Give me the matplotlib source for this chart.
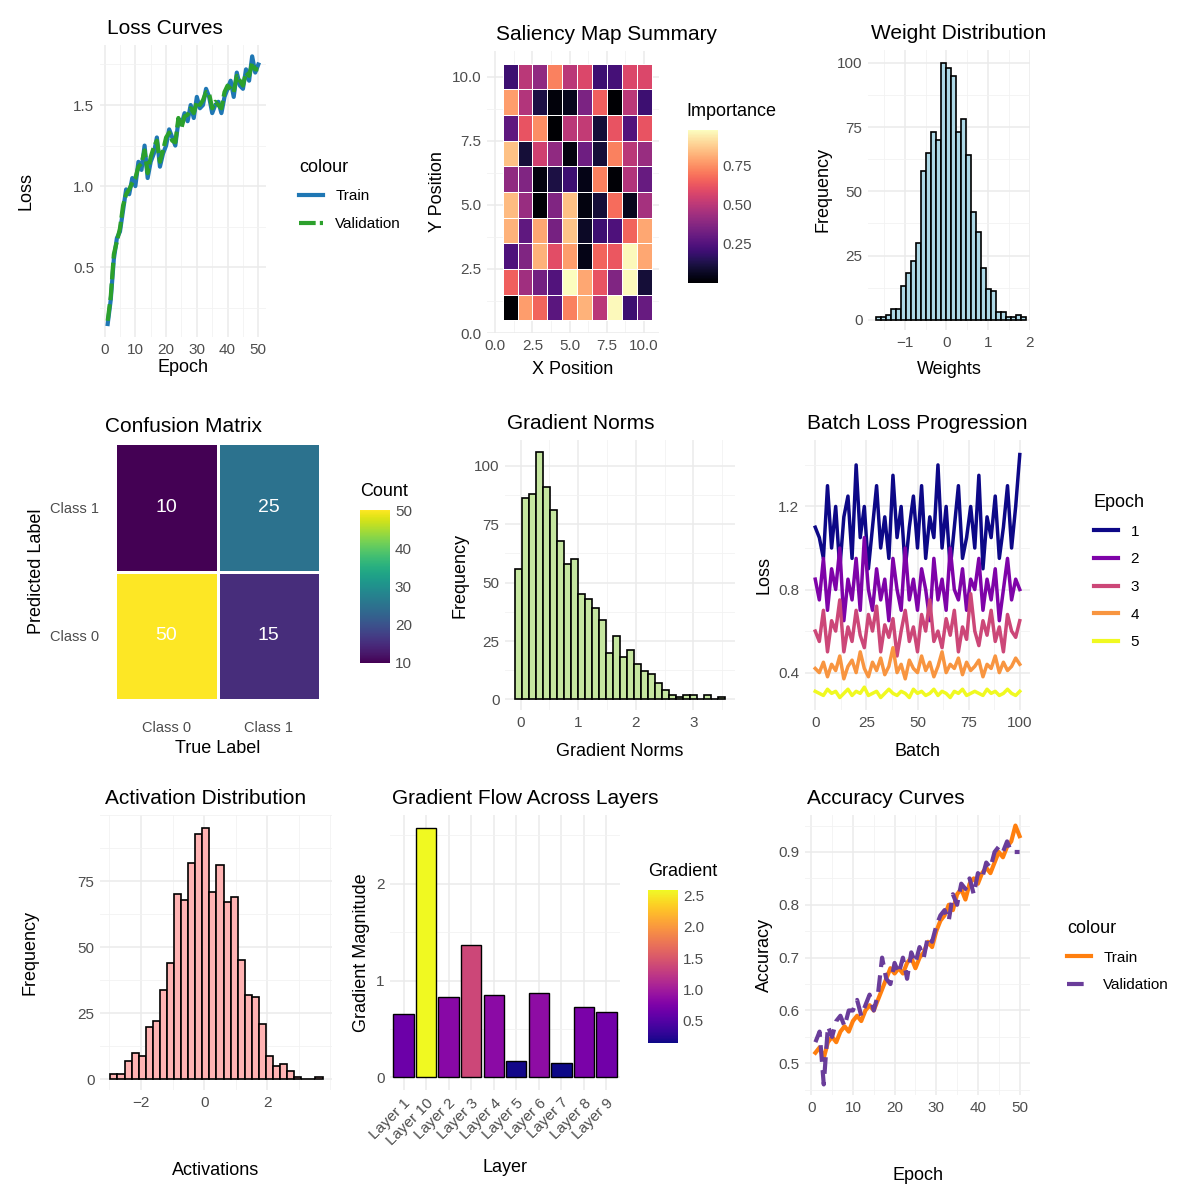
import matplotlib
matplotlib.use("Agg")
import matplotlib.pyplot as plt
import numpy as np
from matplotlib.lines import Line2D
from matplotlib.colors import Normalize
from matplotlib.ticker import AutoMinorLocator
import matplotlib.cm as cm

plt.rcParams['font.family'] = ['Liberation Sans', 'DejaVu Sans']

# ---------------- data ----------------
loss_epochs = list(range(1, 51))
loss_train = [0.15,0.3,0.55,0.68,0.72,0.85,0.98,0.95,1.05,1.0,1.15,1.1,1.25,1.05,1.15,1.2,1.3,1.12,1.2,1.25,
              1.35,1.3,1.25,1.4,1.38,1.45,1.4,1.5,1.42,1.55,1.48,1.5,1.6,1.55,1.45,1.5,1.52,1.45,1.55,1.6,
              1.65,1.55,1.7,1.62,1.6,1.72,1.65,1.8,1.7,1.75]
loss_val = [0.17,0.32,0.58,0.66,0.74,0.88,0.95,0.98,1.02,1.05,1.12,1.14,1.22,1.08,1.18,1.24,1.28,1.15,1.22,1.3,
            1.33,1.28,1.27,1.42,1.36,1.43,1.44,1.48,1.45,1.52,1.5,1.53,1.58,1.57,1.48,1.52,1.5,1.48,1.58,1.62,
            1.6,1.58,1.68,1.65,1.62,1.7,1.68,1.76,1.72,1.72]

saliency = [  # rows from y=10 (top) down to y=1
    [0.20,0.50,0.40,0.72,0.50,0.58,0.20,0.22,0.58,0.58],
    [0.78,0.48,0.12,0.02,0.05,0.35,0.65,0.00,0.50,0.20],
    [0.28,0.62,0.75,0.00,0.50,0.52,0.10,0.62,0.25,0.62],
    [0.85,0.10,0.55,0.40,0.03,0.32,0.10,0.72,0.50,0.42],
    [0.40,0.36,0.03,0.12,0.20,0.04,0.72,0.01,0.48,0.30],
    [0.84,0.42,0.01,0.36,0.85,0.03,0.10,0.68,0.05,0.45],
    [0.82,0.28,0.80,0.34,0.86,0.07,0.20,0.24,0.66,0.80],
    [0.24,0.36,0.82,0.60,0.78,0.04,0.66,0.63,0.97,0.80],
    [0.65,0.44,0.33,0.25,0.98,0.80,0.62,0.36,0.97,0.10],
    [0.00,0.78,0.66,0.27,0.72,0.82,0.50,0.97,0.20,0.30],
]

weight_start, weight_width = -1.70, 0.12
weight_counts = [1,1,2,4,4,13,18,23,30,58,65,73,70,100,98,95,73,78,64,42,34,20,12,11,3,3,1,1,2,1]

conf_true = ["Class 0", "Class 1", "Class 0", "Class 1"]
conf_pred = ["Class 1", "Class 1", "Class 0", "Class 0"]
conf_count = [10, 25, 50, 15]

gn_start, gn_width = -0.09, 0.121
gn_counts = [56,86,88,106,91,81,68,58,60,45,43,39,34,20,27,18,21,15,12,11,7,4,2,1,2,2,0,2,0,1]

batch_x = list(range(0, 101, 2))
batch_loss = {
    1: [1.1,1.05,0.95,1.3,1.0,1.2,0.9,1.15,1.25,0.95,1.4,1.05,1.2,0.9,1.1,1.3,1.0,1.15,0.95,1.35,1.05,1.2,0.9,1.1,1.25,1.0,1.3,0.95,1.15,1.05,1.4,1.0,1.2,0.9,1.1,1.3,0.95,1.05,1.2,1.0,1.35,0.9,1.15,1.05,1.25,0.95,1.1,1.3,1.0,1.2,1.45],
    2: [0.85,0.75,0.95,0.7,0.9,0.8,1.0,0.65,0.85,0.75,0.95,0.7,1.05,0.8,0.7,0.9,0.75,0.85,0.65,0.95,0.8,0.7,1.0,0.75,0.85,0.7,0.9,0.8,0.65,0.95,0.75,0.85,0.7,1.0,0.8,0.75,0.9,0.7,0.85,0.8,0.95,0.7,0.85,0.75,0.9,0.65,0.8,0.95,0.75,0.85,0.8],
    3: [0.6,0.55,0.7,0.5,0.65,0.6,0.75,0.5,0.62,0.55,0.7,0.58,0.52,0.68,0.6,0.72,0.5,0.63,0.57,0.66,0.48,0.6,0.7,0.55,0.62,0.5,0.68,0.6,0.75,0.55,0.6,0.52,0.66,0.58,0.7,0.5,0.62,0.56,0.78,0.6,0.53,0.65,0.58,0.7,0.55,0.62,0.5,0.68,0.6,0.57,0.65],
    4: [0.42,0.4,0.45,0.38,0.44,0.41,0.48,0.37,0.43,0.46,0.4,0.5,0.42,0.38,0.45,0.41,0.47,0.39,0.43,0.52,0.4,0.44,0.37,0.46,0.42,0.4,0.48,0.41,0.45,0.38,0.43,0.5,0.4,0.44,0.42,0.47,0.39,0.45,0.41,0.43,0.46,0.38,0.44,0.42,0.48,0.4,0.45,0.41,0.43,0.47,0.44],
    5: [0.31,0.3,0.29,0.32,0.3,0.31,0.28,0.3,0.32,0.29,0.31,0.3,0.33,0.29,0.3,0.31,0.28,0.3,0.32,0.3,0.29,0.31,0.3,0.28,0.32,0.3,0.31,0.29,0.3,0.32,0.29,0.31,0.3,0.28,0.31,0.3,0.32,0.29,0.3,0.31,0.3,0.29,0.32,0.3,0.31,0.29,0.3,0.32,0.3,0.29,0.31],
}
batch_colors = ["#0D0887", "#7E03A8", "#CC4778", "#F89540", "#F0F921"]

act_start, act_width = -2.97, 0.224
act_counts = [2,2,7,10,9,20,22,34,44,70,68,82,93,95,71,81,67,69,45,32,31,21,9,5,6,3,1,0,0,1]

layers = ["Layer 1","Layer 10","Layer 2","Layer 3","Layer 4","Layer 5","Layer 6","Layer 7","Layer 8","Layer 9"]
layer_grad = [0.65,2.58,0.83,1.37,0.85,0.17,0.87,0.15,0.73,0.68]

acc_epochs = list(range(1, 51))
acc_train = [0.52,0.53,0.51,0.54,0.55,0.54,0.56,0.57,0.56,0.58,0.59,0.58,0.6,0.61,0.6,0.62,0.64,0.66,0.68,0.67,
             0.68,0.67,0.69,0.7,0.68,0.7,0.71,0.73,0.72,0.75,0.77,0.78,0.8,0.79,0.82,0.83,0.81,0.84,0.85,0.84,
             0.86,0.87,0.86,0.88,0.9,0.89,0.91,0.92,0.95,0.93]
acc_val = [0.54,0.56,0.46,0.57,0.55,0.58,0.59,0.57,0.6,0.6,0.62,0.59,0.61,0.63,0.6,0.63,0.7,0.66,0.65,0.69,
           0.67,0.7,0.66,0.71,0.69,0.72,0.7,0.74,0.73,0.76,0.78,0.79,0.77,0.82,0.8,0.84,0.83,0.85,0.82,0.86,
           0.85,0.88,0.87,0.9,0.91,0.9,0.92,0.9,0.9,0.9]

# ---------------- helpers ----------------
W = H = 1200
fig = plt.figure(figsize=(12, 12), dpi=100)
fig.patch.set_facecolor("white")
TXT = "#4D4D4D"

def ax_px(x0, y0, x1, y1):
    return fig.add_axes([x0 / W, 1 - y1 / H, (x1 - x0) / W, (y1 - y0) / H])

def style(ax, title, xl, yl, minor=True, tx=0.0):
    ax.set_facecolor("white")
    for s in ax.spines.values():
        s.set_visible(False)
    ax.grid(True, which="major", color="#EBEBEB", lw=1.1, zorder=0)
    if minor:
        ax.xaxis.set_minor_locator(AutoMinorLocator(2))
        ax.yaxis.set_minor_locator(AutoMinorLocator(2))
        ax.grid(True, which="minor", color="#F2F2F2", lw=0.6, zorder=0)
    ax.set_axisbelow(True)
    ax.tick_params(which="both", length=0, labelsize=11, colors=TXT, pad=4)
    ax.set_title(title, loc="left", fontsize=15, pad=8, color="black", x=tx)
    ax.set_xlabel(xl, fontsize=13, labelpad=2)
    ax.set_ylabel(yl, fontsize=13, labelpad=4)

def legend_lines(ax, handles, labels, title, x, y):
    return ax.legend(handles, labels, title=title, loc="upper left",
                     bbox_to_anchor=(x, y), bbox_transform=fig.transFigure,
                     frameon=False, fontsize=11, title_fontsize=13,
                     handlelength=1.6, labelspacing=0.9, alignment="left")

def cbar(x0, y0, x1, y1, cmap, vmin, vmax, ticks, fmt, title, tx, ty):
    cax = ax_px(x0, y0, x1, y1)
    cb = fig.colorbar(cm.ScalarMappable(norm=Normalize(vmin, vmax), cmap=cmap), cax=cax, ticks=ticks)
    cb.outline.set_visible(False)
    cax.tick_params(length=0, labelsize=11, colors=TXT)
    cax.set_yticklabels([fmt.format(t) for t in ticks])
    fig.text(tx / W, 1 - ty / H, title, fontsize=13, va="center")
    return cb

# ---------------- 1 loss curves ----------------
ax = ax_px(100, 45, 266, 337)
ax.plot(loss_epochs, loss_train, color="#1F77B4", lw=3)
ax.plot(loss_epochs, loss_val, color="#2CA02C", lw=3, ls=(0, (4, 1)))
ax.set_xlim(-1.5, 52.5)
ax.set_ylim(0.07, 1.87)
ax.set_xticks([0, 10, 20, 30, 40, 50])
ax.set_yticks([0.5, 1.0, 1.5])
style(ax, "Loss Curves", "Epoch", "Loss", tx=0.04)
ax.yaxis.labelpad = 28
legend_lines(ax, [Line2D([], [], color="#1F77B4", lw=3), Line2D([], [], color="#2CA02C", lw=3, ls=(0, (4, 1)))],
             ["Train", "Validation"], "colour", 285 / W, 1 - 145 / H)

# ---------------- 2 saliency ----------------
ax = ax_px(487, 51, 659, 333)
sal = np.array(saliency)[::-1]
ax.pcolormesh(np.arange(0.5, 11.5, 1), np.arange(0.5, 11.5, 1), sal, cmap="magma",
              vmin=0.0, vmax=0.98, edgecolors="white", linewidth=0.6)
ax.set_xlim(-0.55, 11.0)
ax.set_ylim(0, 11.0)
ax.set_xticks([0, 2.5, 5, 7.5, 10])
ax.set_yticks([0, 2.5, 5, 7.5, 10])
ax.set_xticklabels(["0.0", "2.5", "5.0", "7.5", "10.0"])
ax.set_yticklabels(["0.0", "2.5", "5.0", "7.5", "10.0"])
style(ax, "Saliency Map Summary", "X Position", "Y Position", minor=True, tx=0.05)
ax.xaxis.labelpad = 6
cbar(688, 130, 718, 283, "magma", 0.0, 0.98, [0.25, 0.5, 0.75], "{:.2f}", "Importance", 686, 112)

# ---------------- 3 weight ----------------
ax = ax_px(868, 50, 1030, 330)
edges = weight_start + weight_width * np.arange(len(weight_counts))
ax.bar(edges, weight_counts, width=weight_width, align="edge", color="#ADD8E6",
       edgecolor="black", lw=1.2, zorder=3)
ax.set_xlim(-1.88, 2.0)
ax.set_ylim(-4, 105)
ax.set_xticks([-1, 0, 1, 2])
ax.set_yticks([0, 25, 50, 75, 100])
style(ax, "Weight Distribution", "Weights", "Frequency", tx=0.02)
ax.xaxis.labelpad = 8

# ---------------- 4 confusion ----------------
ax = ax_px(105, 443, 330, 700)
cls = ["Class 0", "Class 1"]
grid = np.zeros((2, 2))
for t, p, c in zip(conf_true, conf_pred, conf_count):
    grid[cls.index(p), cls.index(t)] = c
ax.pcolormesh([0.5, 1.5, 2.5], [0.5, 1.5, 2.5], grid, cmap="viridis", vmin=10, vmax=50,
              edgecolors="white", linewidth=0.8)
for t, p, c in zip(conf_true, conf_pred, conf_count):
    ax.text(cls.index(t) + 1, cls.index(p) + 1, str(c), color="white", ha="center", va="center", fontsize=14)
ax.set_xlim(0.4, 2.6)
ax.set_ylim(0.5, 2.5)
ax.set_xticks([1, 2]); ax.set_xticklabels(cls)
ax.set_yticks([1, 2]); ax.set_yticklabels(cls)
style(ax, "Confusion Matrix", "True Label", "Predicted Label", minor=False)
ax.grid(False)
ax.tick_params(labelsize=10.5)
ax.tick_params(axis="x", pad=15)
ax.xaxis.labelpad = 4
cbar(360, 510, 390, 663, "viridis", 10, 50, [10, 20, 30, 40, 50], "{:d}", "Count", 360, 492)

# ---------------- 5 gradient norms ----------------
ax = ax_px(505, 440, 735, 710)
edges = gn_start + gn_width * np.arange(len(gn_counts))
ax.bar(edges, gn_counts, width=gn_width, align="edge", color="#C5E6A0",
       edgecolor="black", lw=1.2, zorder=3)
ax.set_xlim(-0.27, 3.72)
ax.set_ylim(-4.5, 111)
ax.set_xticks([0, 1, 2, 3])
ax.set_yticks([0, 25, 50, 75, 100])
style(ax, "Gradient Norms", "Gradient Norms", "Frequency", tx=0.01)
ax.xaxis.labelpad = 10

# ---------------- 6 batch loss ----------------
ax = ax_px(805, 440, 1030, 710)
for i, (ep, vals) in enumerate(batch_loss.items()):
    ax.plot(batch_x, vals, color=batch_colors[i], lw=2.5)
ax.set_xlim(-5, 105)
ax.set_ylim(0.22, 1.52)
ax.set_xticks([0, 25, 50, 75, 100])
ax.set_yticks([0.4, 0.8, 1.2])
style(ax, "Batch Loss Progression", "Batch", "Loss", tx=0.01)
ax.xaxis.labelpad = 10
legend_lines(ax, [Line2D([], [], color=c, lw=3) for c in batch_colors], ["1", "2", "3", "4", "5"],
             "Epoch", 1080 / W, 1 - 480 / H)

# ---------------- 7 activation ----------------
ax = ax_px(100, 815, 332, 1090)
edges = act_start + act_width * np.arange(len(act_counts))
ax.bar(edges, act_counts, width=act_width, align="edge", color="#FFB3B3",
       edgecolor="black", lw=1.2, zorder=3)
ax.set_xlim(-3.3, 4.05)
ax.set_ylim(-4, 100)
ax.set_xticks([-2, 0, 2])
ax.set_yticks([0, 25, 50, 75])
style(ax, "Activation Distribution", "Activations", "Frequency", tx=0.02)
ax.xaxis.labelpad = 38
ax.yaxis.labelpad = 28

# ---------------- 8 gradient flow ----------------
ax = ax_px(390, 815, 620, 1090)
norm = Normalize(min(layer_grad), max(layer_grad))
ax.bar(range(len(layers)), layer_grad, width=0.9, color=cm.plasma(norm(layer_grad)),
       edgecolor="black", lw=1.0, zorder=3)
ax.set_xlim(-0.6, 9.6)
ax.set_ylim(-0.13, 2.71)
ax.set_xticks(range(len(layers)))
ax.set_xticklabels(layers, rotation=45, ha="right", rotation_mode="anchor")
ax.set_yticks([0, 1, 2])
style(ax, "Gradient Flow Across Layers", "Layer", "Gradient Magnitude", minor=False, tx=0.01)
ax.yaxis.set_minor_locator(AutoMinorLocator(2))
ax.grid(True, which="minor", axis="y", color="#F2F2F2", lw=0.6)
ax.xaxis.labelpad = 8
cbar(648, 890, 678, 1043, "plasma", min(layer_grad), max(layer_grad), [0.5, 1.0, 1.5, 2.0, 2.5], "{:.1f}",
     "Gradient", 648, 872)

# ---------------- 9 accuracy ----------------
ax = ax_px(805, 815, 1030, 1095)
ax.plot(acc_epochs, acc_train, color="#FF7F0E", lw=3)
ax.plot(acc_epochs, acc_val, color="#6A3D9A", lw=3, ls=(0, (4, 2)))
ax.set_xlim(-1.5, 52.5)
ax.set_ylim(0.44, 0.97)
ax.set_xticks([0, 10, 20, 30, 40, 50])
ax.set_yticks([0.5, 0.6, 0.7, 0.8, 0.9])
style(ax, "Accuracy Curves", "Epoch", "Accuracy", tx=0.01)
ax.xaxis.labelpad = 38
legend_lines(ax, [Line2D([], [], color="#FF7F0E", lw=3), Line2D([], [], color="#6A3D9A", lw=3, ls=(0, (4, 2)))],
             ["Train", "Validation"], "colour", 1053 / W, 1 - 906 / H)

fig.savefig("out.png", dpi=100, facecolor="white")
